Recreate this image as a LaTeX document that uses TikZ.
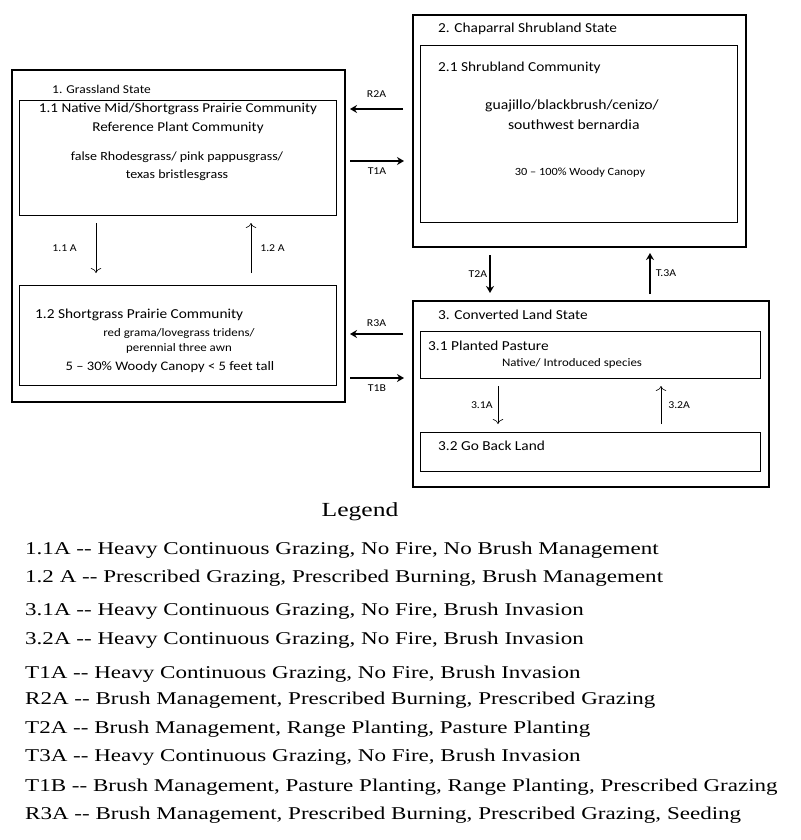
\documentclass[tikz,border=0pt]{standalone}
\usepackage{fontspec}
\usetikzlibrary{arrows.meta}
\setmainfont{Carlito}[FakeStretch=1.12]
\newfontfamily\legfont{Liberation Serif}[FakeStretch=1.28]
\begin{document}
\begin{tikzpicture}[x=1pt,y=-1pt,
  outer/.style={draw,line width=2.2pt},
  inner/.style={draw,line width=0.8pt},
  big/.style={-{Stealth[length=7pt,width=8pt]},line width=1.8pt},
  thin/.style={-{To[length=5pt]},line width=0.6pt},
  lbl/.style={font=\fontsize{10.5}{11}\selectfont,inner sep=1pt},
  ttl/.style={font=\fontsize{13.7}{15}\selectfont,anchor=west,inner sep=0pt},
  txt/.style={font=\fontsize{13.5}{19}\selectfont,align=center,inner sep=0pt},
  leg/.style={font=\legfont\fontsize{18}{19}\selectfont,anchor=west,inner sep=0pt}]
\useasboundingbox (0,0) rectangle (800,840);
% boxes
\node[outer,minimum width=333pt,minimum height=332pt,anchor=north west,inner sep=0pt] (G) at (11,69) {};
\node[inner,minimum width=317pt,minimum height=115pt,anchor=north west,inner sep=0pt] (G1) at (19,100) {};
\node[inner,minimum width=317pt,minimum height=100pt,anchor=north west,inner sep=0pt] (G2) at (19,285) {};
\node[outer,minimum width=333pt,minimum height=232pt,anchor=north west,inner sep=0pt] (C) at (412,14) {};
\node[inner,minimum width=317pt,minimum height=177pt,anchor=north west,inner sep=0pt] (C1) at (420,45) {};
\node[outer,minimum width=356pt,minimum height=186pt,anchor=north west,inner sep=0pt] (L) at (412,300) {};
\node[inner,minimum width=340pt,minimum height=47pt,anchor=north west,inner sep=0pt] (L1) at (420,331) {};
\node[inner,minimum width=340pt,minimum height=39pt,anchor=north west,inner sep=0pt] (L2) at (420,432) {};
% texts
\node[ttl,font=\fontsize{12}{14}\selectfont] (tG) at (52,89) {1. Grassland State};
\node[txt] (tG1) at (178,118) {1.1 Native Mid/Shortgrass Prairie Community\\Reference Plant Community};
\node[txt,font=\fontsize{12.5}{18}\selectfont] (tG1b) at (177,166) {false Rhodesgrass/ pink pappusgrass/\\texas bristlesgrass};
\node[ttl] (tG2) at (35,315) {1.2 Shortgrass Prairie Community};
\node[txt,font=\fontsize{11.5}{15}\selectfont] (tG2b) at (179,341) {red grama/lovegrass tridens/\\perennial three awn};
\node[txt,font=\fontsize{13}{15}\selectfont] (tG2c) at (170,367) {5 -- 30\% Woody Canopy < 5 feet tall};
\node[ttl] (tC) at (438,29) {2. Chaparral Shrubland State};
\node[ttl] (tC1) at (438,68) {2.1 Shrubland Community};
\node[txt,font=\fontsize{14}{20}\selectfont] (tC1b) at (572,115) {guajillo/blackbrush/cenizo/\\\ southwest bernardia};
\node[txt,font=\fontsize{11}{12}\selectfont] (tC1c) at (580,173) {30 -- 100\% Woody Canopy};
\node[ttl] (tL) at (438,315) {3. Converted Land State};
\node[ttl] (tL1) at (428,346) {3.1 Planted Pasture};
\node[txt,font=\fontsize{11.5}{12}\selectfont] (tL1b) at (572,363) {Native/ Introduced species};
\node[ttl] (tL2) at (438,446) {3.2 Go Back Land};
% big arrows
\coordinate (a1) at (403,109); \coordinate (a2) at (350,109);
\draw[big] (a1) -- (a2) node[lbl,midway,above=10pt] {R2A};
\coordinate (b1) at (350,161); \coordinate (b2) at (404,161);
\draw[big] (b1) -- (b2) node[lbl,midway,below=5pt] {T1A};
\coordinate (c1) at (403,334); \coordinate (c2) at (350,334);
\draw[big] (c1) -- (c2) node[lbl,midway,above=6pt] {R3A};
\coordinate (d1) at (350,378); \coordinate (d2) at (404,378);
\draw[big] (d1) -- (d2) node[lbl,midway,below=5pt] {T1B};
\draw[big] (490,255) -- (490,293) node[lbl,midway,left=1pt] {T2A};
\draw[big] (650,294) -- (650,253) node[lbl,midway,right=4pt] {T.3A};
% thin arrows
\draw[thin] (96,223) -- (96,273) node[lbl,midway,left=18pt] {1.1 A};
\draw[thin] (251,273) -- (251,223) node[lbl,midway,right=8pt] {1.2 A};
\draw[thin] (498,386) -- (498,424) node[lbl,midway,left=4pt] {3.1A};
\draw[thin] (661,424) -- (661,386) node[lbl,midway,right=6pt] {3.2A};
% legend
\node[font=\legfont\fontsize{20}{22}\selectfont,inner sep=0pt] (lg) at (360,512) {Legend};
\node[leg] (l1) at (25,550) {1.1A -- Heavy Continuous Grazing, No Fire, No Brush Management};
\node[leg] (l2) at (25,578) {1.2 A -- Prescribed Grazing, Prescribed Burning, Brush Management};
\node[leg] (l3) at (25,611) {3.1A -- Heavy Continuous Grazing, No Fire, Brush Invasion};
\node[leg] (l4) at (25,640) {3.2A -- Heavy Continuous Grazing, No Fire, Brush Invasion};
\node[leg] (l5) at (25,674) {T1A -- Heavy Continuous Grazing, No Fire, Brush Invasion};
\node[leg] (l6) at (25,700) {R2A -- Brush Management, Prescribed Burning, Prescribed Grazing};
\node[leg] (l7) at (25,729) {T2A -- Brush Management, Range Planting, Pasture Planting};
\node[leg] (l8) at (25,757) {T3A -- Heavy Continuous Grazing, No Fire, Brush Invasion};
\node[leg] (l9) at (25,787) {T1B -- Brush Management, Pasture Planting, Range Planting, Prescribed Grazing};
\node[leg] (l10) at (25,815) {R3A -- Brush Management, Prescribed Burning, Prescribed Grazing, Seeding};
\end{tikzpicture}
\end{document}
